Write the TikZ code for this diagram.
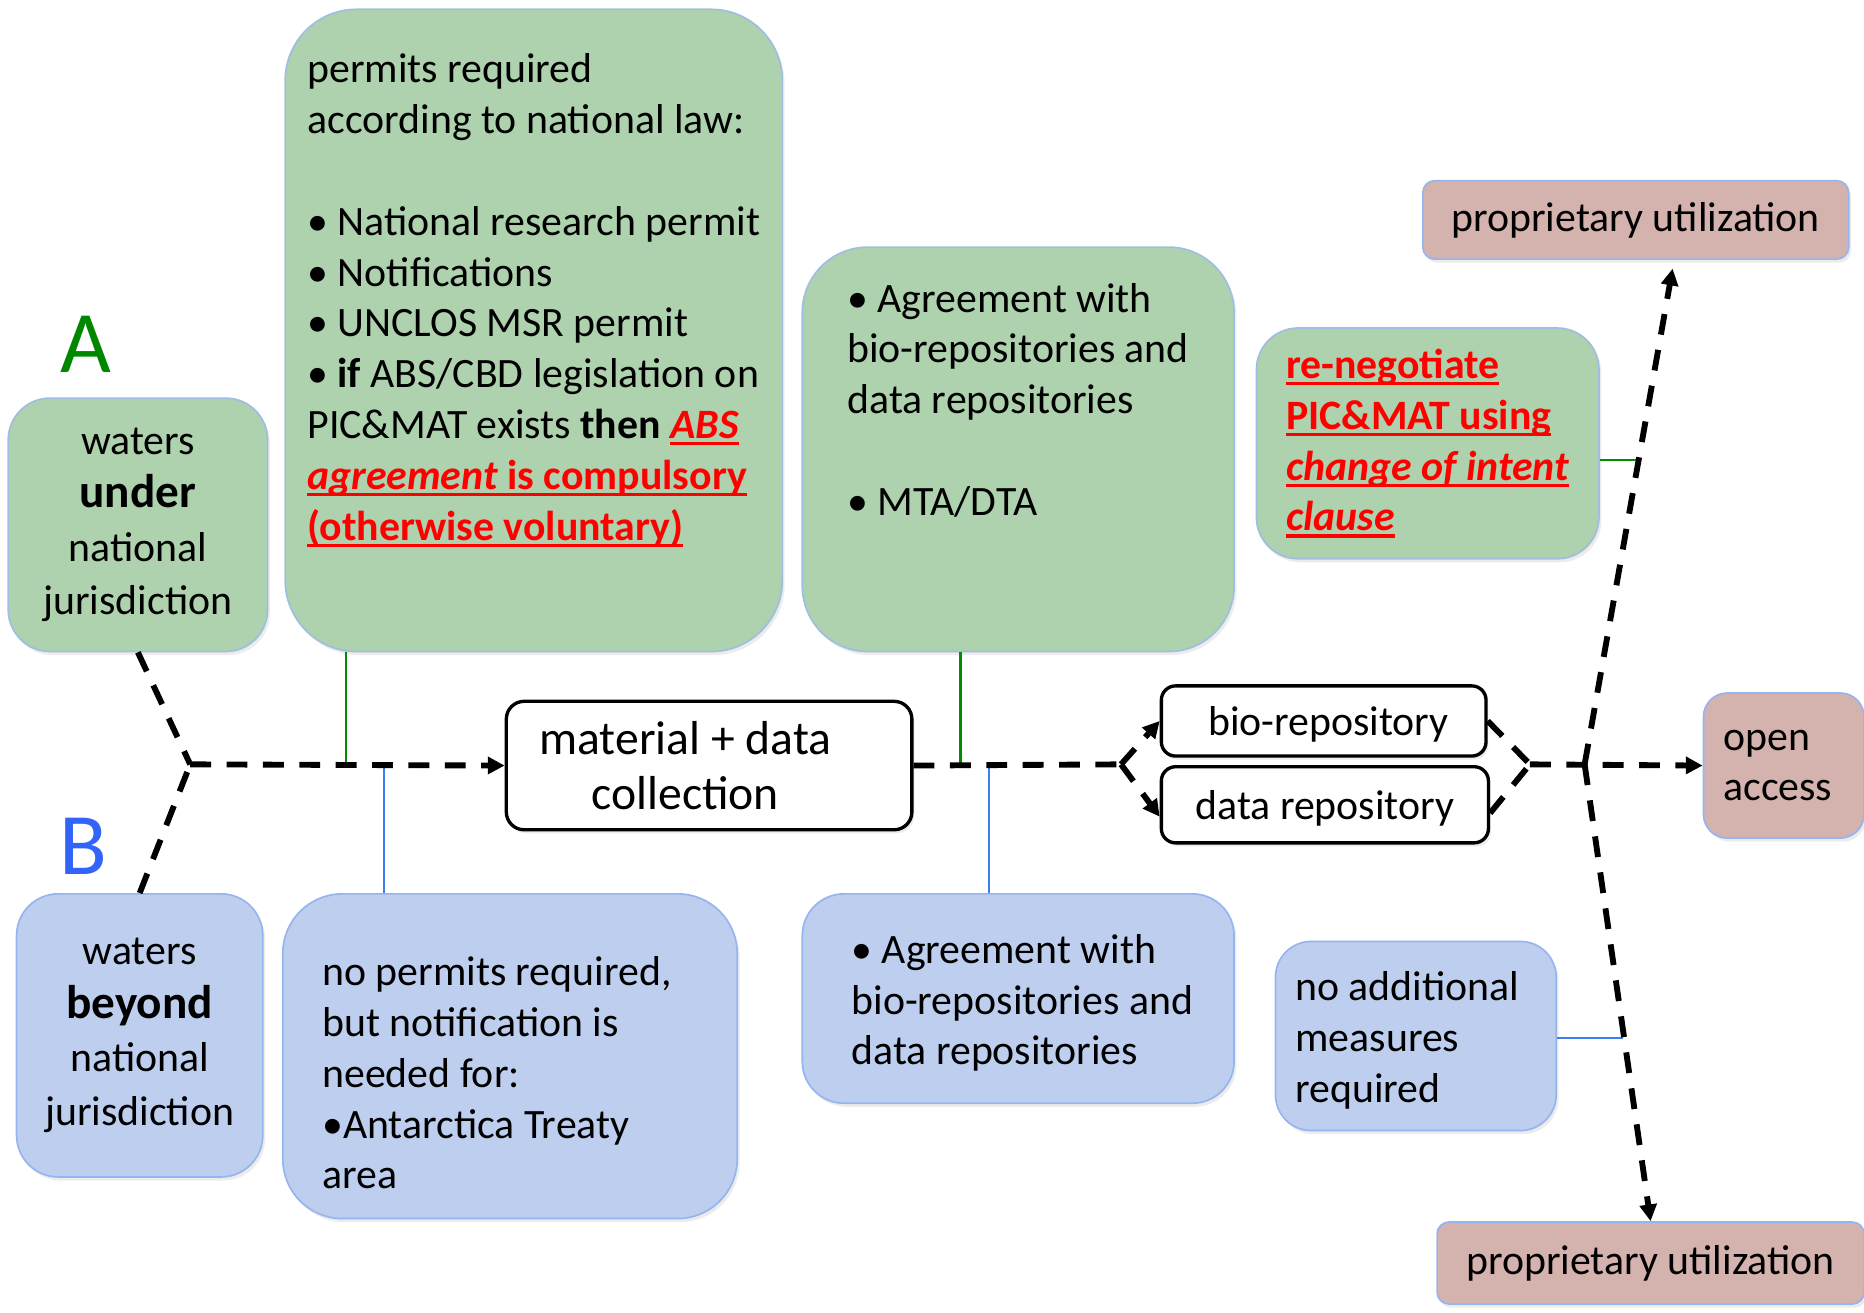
\documentclass[tikz,border=0pt]{standalone}
\usepackage{fontspec}
\setmainfont{Carlito}
\usepackage{tikz}
\usetikzlibrary{calc}
\usetikzlibrary{positioning}
\usetikzlibrary{arrows.meta}
\usetikzlibrary{shadows}

\definecolor{boxgreen}{RGB}{174,209,174}
\definecolor{boxblue}{RGB}{189,206,238}
\definecolor{boxpink}{RGB}{212,178,174}
\definecolor{rimgreen}{RGB}{160,190,225}
\definecolor{rimblue}{RGB}{150,180,238}
\definecolor{linkgreen}{RGB}{0,140,0}
\definecolor{linkblue}{RGB}{60,125,240}
\definecolor{letterA}{RGB}{0,135,0}
\definecolor{letterB}{RGB}{50,100,250}

\newcommand{\bodyfont}{\fontsize{10}{12.15}\selectfont}
\newcommand{\bigword}[1]{{\fontsize{11.3}{12.8}\selectfont\bfseries #1}}
\newcommand{\redline}[1]{{\color{red}\setbox0=\hbox{#1}\rlap{\rule[-1.6pt]{\wd0}{0.75pt}}\box0}}

\tikzset{
  box/.style={draw, align=left, inner sep=0pt, font=\bodyfont,
    drop shadow={shadow xshift=0.02cm, shadow yshift=-0.03cm, opacity=0.15}},
  greenbox/.style={box, fill=boxgreen, draw=rimgreen},
  bluebox/.style={box, fill=boxblue, draw=rimblue},
  pinkbox/.style={box, fill=boxpink, draw=rimblue},
  whitebox/.style={box, fill=white, draw=black, line width=0.8pt},
  flow/.style={line width=1.4pt, dash pattern=on 5pt off 3.7pt},
  flowarrow/.style={flow, -{Triangle[length=4pt,width=4pt]}},
  glink/.style={linkgreen, line width=0.6pt},
  blink/.style={linkblue, line width=0.6pt},
}

\begin{document}
\begin{tikzpicture}[x=0.01cm, y=-0.01cm]
\useasboundingbox (0,0) rectangle (1568,1104);

% zone A: waters under national jurisdiction
\node[text=letterA, font=\fontsize{21}{25}\selectfont] (A) at (72,290) {A};
\node[greenbox, align=center, rounded corners=0.35cm, minimum width=2.18cm, minimum height=2.13cm,
  font=\fontsize{10}{12.8}\selectfont] (under) at (116,441.5)
  {waters\\\bigword{under}\\national\\jurisdiction};
\node[greenbox, rounded corners=0.6cm, minimum width=4.18cm, minimum height=5.40cm] (permits) at (449,278)
  {permits required\\according to national law:\\[12.15pt]
   \textbullet\ National research permit\\
   \textbullet\ Notifications\\
   \textbullet\ UNCLOS MSR permit\\
   \textbullet\ \textbf{if} ABS/CBD legislation on\\
   PIC\&MAT exists \textbf{then} \redline{\textbf{\textit{ABS}}}\\
   \redline{\textbf{\textit{agreement}} \textbf{is compulsory}}\\
   \redline{\textbf{(otherwise voluntary)}}\rule[-16pt]{0pt}{16pt}};
\node[greenbox, rounded corners=0.55cm, minimum width=3.63cm, minimum height=3.40cm] (agreeG) at (856.5,378)
  {\textbullet\ Agreement with\\bio-repositories and\\data repositories\\[12.15pt]
   \textbullet\ MTA/DTA\rule[-24pt]{0pt}{24pt}};
\node[greenbox, rounded corners=0.35cm, minimum width=2.88cm, minimum height=1.94cm] (reneg) at (1201,373)
  {\redline{\textbf{re-negotiate}}\\\redline{\textbf{PIC\&MAT using}}\\
   \redline{\textbf{\textit{change of intent}}}\\\redline{\textbf{\textit{clause}}}};

% zone B: waters beyond national jurisdiction
\node[text=letterB, font=\fontsize{21}{25}\selectfont] (B) at (70,712) {B};
\node[bluebox, align=center, rounded corners=0.35cm, minimum width=2.07cm, minimum height=2.38cm,
  font=\fontsize{10}{12.8}\selectfont] (beyond) at (117.5,871)
  {waters\\\bigword{beyond}\\national\\jurisdiction};
\node[bluebox, rounded corners=0.5cm, minimum width=3.82cm, minimum height=2.73cm] (nop) at (429,888.5)
  {\rule{0pt}{15pt}no permits required,\hspace*{0.22cm}\\but notification is\\needed for:\\\textbullet Antarctica Treaty\\area};
\node[bluebox, rounded corners=0.35cm, minimum width=3.63cm, minimum height=1.76cm] (agreeB) at (856.5,840)
  {\rule{0pt}{9pt}\hspace*{0.07cm}\textbullet\ Agreement with\\\hspace*{0.07cm}bio-repositories and\\\hspace*{0.07cm}data repositories};
\node[bluebox, rounded corners=0.3cm, minimum width=2.36cm, minimum height=1.59cm] (noadd) at (1191,871.5)
  {\rule{0pt}{9pt}no additional\hspace*{0.14cm}\\measures\\required};

% collection and repositories
\node[whitebox, align=center, rounded corners=0.15cm, minimum width=3.41cm, minimum height=1.08cm,
  font=\fontsize{11.4}{13.1}\selectfont] (material) at (596.5,644)
  {material + data\hspace*{0.4cm}\\collection\hspace*{0.4cm}};
\node[whitebox, rounded corners=0.12cm, minimum width=2.73cm, minimum height=0.59cm, text depth=0pt] (bio) at (1113.5,606.5)
  {\hspace*{0.08cm}bio-repository};
\node[whitebox, rounded corners=0.12cm, minimum width=2.75cm, minimum height=0.64cm, text depth=0pt] (datarepo) at (1114.5,677)
  {data repository};

% outcomes
\node[pinkbox, rounded corners=0.1cm, minimum width=3.58cm, minimum height=0.66cm] (propTop) at (1376,185) {proprietary utilization};
\node[pinkbox, rounded corners=0.2cm, minimum width=1.35cm, minimum height=1.22cm] (open) at (1500.5,644) {open\\access\hspace*{0.1cm}};
\node[pinkbox, rounded corners=0.1cm, minimum width=3.59cm, minimum height=0.69cm] (propBot) at (1388.5,1062.5) {proprietary utilization};

% junctions
\coordinate (j1) at (160,643);
\coordinate (j2) at (943,643);
\coordinate (j3) at (1287,643);
\coordinate (j4) at (1333,643);
\coordinate (tUp) at (1407,226);
\coordinate (pA) at (291,643);
\coordinate (pB) at (323,643);
\coordinate (pC) at (808,643);
\coordinate (pD) at (832,643);
\coordinate (pE) at (1378,387);
\coordinate (pF) at (1365,873);

% thin links
\draw[glink] (permits.south -| pA) -- (pA);
\draw[blink] (pB) -- (nop.north -| pB);
\draw[glink] (agreeG.south -| pC) -- (pC);
\draw[blink] (pD) -- (agreeB.north -| pD);
\draw[glink] (reneg.east |- pE) -- (pE);
\draw[blink] (noadd.east |- pF) -- (pF);

% flow
\draw[flow] (under.south) -- (j1);
\draw[flow] (beyond.north) -- (j1);
\draw[flowarrow] (j1) -- (material.west);
\draw[flow] (material.east) -- (j2);
\draw[flowarrow] (j2) -- (bio.west);
\draw[flowarrow] (j2) -- ([yshift=-0.1cm]datarepo.west);
\draw[flow] (bio.east) -- (j3);
\draw[flow] ([yshift=-0.07cm]datarepo.east) -- (j3);
\draw[flowarrow] (j3) -- (open.west);
\draw[flowarrow] (j4) -- (tUp);
\draw[flowarrow] (j4) -- (propBot.north);
\end{tikzpicture}
\end{document}
